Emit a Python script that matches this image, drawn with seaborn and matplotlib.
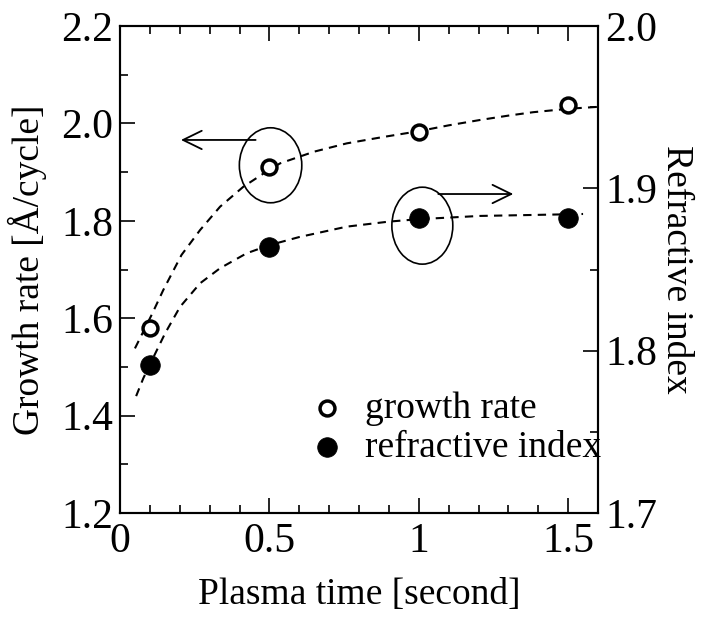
import matplotlib
matplotlib.use("Agg")
import matplotlib.pyplot as plt
from matplotlib.patches import Ellipse
from matplotlib.ticker import MultipleLocator, FixedLocator, FixedFormatter
import seaborn as sns
import pandas as pd

# ---- data ----
plasma_time = [0.1, 0.5, 1.0, 1.5]
growth_rate = [1.58, 1.91, 1.983, 2.038]
refractive_index = [1.791, 1.864, 1.882, 1.882]

# dashed guide curves
growth_fit_x = [0.05, 0.106, 0.145, 0.206, 0.268, 0.335, 0.413, 0.5, 0.536, 0.65, 0.759, 0.88, 1.0, 1.1, 1.205, 1.3, 1.383, 1.5, 1.6]
growth_fit_y = [1.538, 1.607, 1.658, 1.730, 1.781, 1.829, 1.870, 1.905, 1.918, 1.942, 1.959, 1.972, 1.984, 1.996, 2.007, 2.016, 2.023, 2.030, 2.034]
refr_fit_x = [0.054, 0.078, 0.112, 0.151, 0.201, 0.268, 0.335, 0.424, 0.5, 0.6, 0.759, 0.9, 1.0, 1.205, 1.383, 1.55]
refr_fit_y = [1.772, 1.783, 1.796, 1.8107, 1.827, 1.8415, 1.8508, 1.860, 1.865, 1.870, 1.8764, 1.8795, 1.881, 1.883, 1.8836, 1.8842]

x_ticks = [0, 0.5, 1, 1.5]
x_tick_labels = ["0", "0.5", "1", "1.5"]
left_ticks = [1.2, 1.4, 1.6, 1.8, 2.0, 2.2]
left_tick_labels = ["1.2", "1.4", "1.6", "1.8", "2.0", "2.2"]
right_ticks = [1.7, 1.8, 1.9, 2.0]
right_tick_labels = ["1.7", "1.8", "1.9", "2.0"]

sns.set_style("ticks")
plt.rcParams['font.family'] = ['Liberation Serif', 'DejaVu Serif']
plt.rcParams['text.color'] = 'black'
plt.rcParams['axes.labelcolor'] = 'black'
plt.rcParams['xtick.color'] = 'black'
plt.rcParams['ytick.color'] = 'black'

fig = plt.figure(figsize=(7.02, 6.21), dpi=100)
ax = fig.add_axes([120/702, 1-513/621, 478/702, 487/621])
ax2 = ax.twinx()

df_pts = pd.DataFrame({"t": plasma_time, "g": growth_rate, "n": refractive_index})
df_g = pd.DataFrame({"x": growth_fit_x, "y": growth_fit_y})
df_n = pd.DataFrame({"x": refr_fit_x, "y": refr_fit_y})

dash = (0, (4, 3))
sns.lineplot(data=df_g, x="x", y="y", ax=ax, color="black", lw=1.5, sort=False, linestyle=dash, zorder=2)
sns.lineplot(data=df_n, x="x", y="y", ax=ax2, color="black", lw=1.5, sort=False, linestyle=dash, zorder=2)

sns.scatterplot(data=df_pts, x="t", y="g", ax=ax, marker="o", s=115, facecolor="white",
                edgecolor="black", linewidth=2.5, zorder=3, label="growth rate", legend=False)
sns.scatterplot(data=df_pts, x="t", y="n", ax=ax2, marker="o", s=200, color="black",
                edgecolor="black", linewidth=0.5, zorder=3, label="refractive index", legend=False)

# annotations
ax.add_patch(Ellipse((0.504, 1.914), 0.209, 0.154, fill=False, lw=1.2, ec="black", zorder=4))
ax.add_patch(Ellipse((1.012, 1.790), 0.204, 0.158, fill=False, lw=1.2, ec="black", zorder=4))
arrow_kw = dict(arrowstyle="->,head_length=0.45,head_width=0.22", lw=1.3, color="black",
                mutation_scale=30, shrinkA=0, shrinkB=0)
ax.annotate("", xy=(0.204, 1.966), xytext=(0.454, 1.966), arrowprops=arrow_kw)
ax.annotate("", xy=(1.3165, 1.855), xytext=(1.0655, 1.855), arrowprops=arrow_kw)

# axes limits / ticks
ax.set_xlim(0, 1.6)
ax.set_ylim(1.2, 2.2)
ax2.set_ylim(1.7, 2.0)
ax.xaxis.set_major_locator(FixedLocator(x_ticks))
ax.xaxis.set_major_formatter(FixedFormatter(x_tick_labels))
ax.xaxis.set_minor_locator(MultipleLocator(0.1))
ax.yaxis.set_major_locator(FixedLocator(left_ticks))
ax.yaxis.set_major_formatter(FixedFormatter(left_tick_labels))
ax.yaxis.set_minor_locator(MultipleLocator(0.1))
ax2.yaxis.set_major_locator(FixedLocator(right_ticks))
ax2.yaxis.set_major_formatter(FixedFormatter(right_tick_labels))
ax2.yaxis.set_minor_locator(MultipleLocator(0.05))

for a in (ax, ax2):
    for sp in a.spines.values():
        sp.set_linewidth(1.5)
        sp.set_color("black")
        sp.set_visible(True)

ax.tick_params(axis="x", which="both", direction="in", top=True, bottom=True, width=1.2,
               labelsize=30, pad=7, colors="black")
ax.tick_params(axis="y", which="both", direction="in", left=True, right=False, width=1.2,
               labelsize=30, pad=5, colors="black")
ax2.tick_params(axis="y", which="both", direction="in", left=False, right=True, width=1.2,
                labelsize=30, pad=5, colors="black")
for a in (ax, ax2):
    a.tick_params(which="major", length=11)
    a.tick_params(which="minor", length=5.5)

ax.set_xlabel("Plasma time [second]", fontsize=27, labelpad=12, color="black")
ax.set_ylabel("Growth rate [Å/cycle]", fontsize=27, labelpad=10, color="black")
ax2.set_ylabel("Refractive index", fontsize=27, rotation=270, labelpad=26, color="black")

h1, l1 = ax.get_legend_handles_labels()
h2, l2 = ax2.get_legend_handles_labels()
leg = ax2.legend(h1 + h2, l1 + l2, loc="upper left", bbox_to_anchor=(0.402, 0.25),
                 frameon=False, fontsize=27, handlelength=0.8, handletextpad=0.62,
                 borderpad=0, borderaxespad=0, labelspacing=0.12)
for t in leg.get_texts():
    t.set_color("black")

fig.savefig("out.png", dpi=100)
